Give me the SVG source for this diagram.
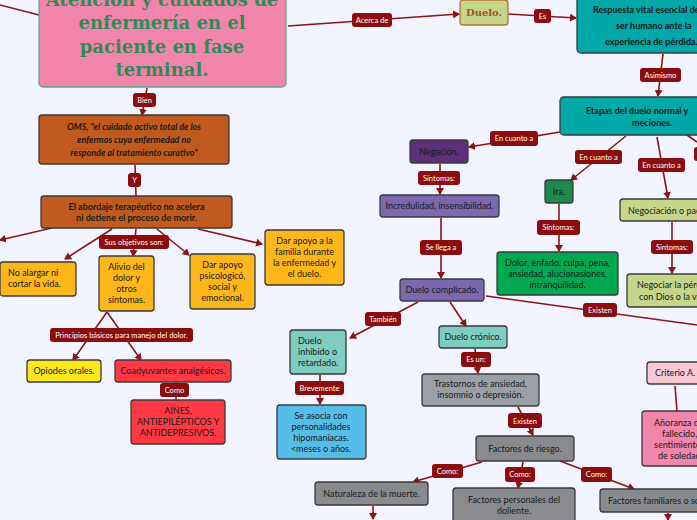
<svg xmlns="http://www.w3.org/2000/svg" width="697" height="520" viewBox="0 0 697 520">
<defs>
<marker id="ah" markerWidth="8" markerHeight="8" refX="6" refY="4" orient="auto" markerUnits="userSpaceOnUse"><path d="M0,0 L7,4 L0,8 Z" fill="#8b1414"/></marker>
<style>
.bg{fill:#f2f5ff}
.n{stroke:#3a3a3a;stroke-width:1.3}
.t{font-family:Lato,"Open Sans",sans-serif;font-size:9px;fill:#1a1a1a;text-anchor:middle}
.s{text-anchor:start}
.c{stroke:#8b1414;stroke-width:1.6;fill:none}
.a{marker-end:url(#ah)}
.lb{fill:#8b0d0d}
.lt{font-family:Lato,"Open Sans",sans-serif;font-size:7.5px;fill:#fff;text-anchor:middle}
</style>
</defs>
<rect class="bg" width="697" height="520"/>
<g id="connectors">
<path class="c" d="M0,5 L39,15"/>
<path class="c a" d="M288,26 L459,14"/>
<path class="c a" d="M508,14 L576,18"/>
<path class="c a" d="M663,54 L658,96"/>
<path class="c a" d="M560,132 L469,147"/>
<path class="c a" d="M440,164 L440,194"/>
<path class="c a" d="M441,218 L441,278"/>
<path class="c a" d="M626,136 L571,180"/>
<path class="c a" d="M559,204 L559,251"/>
<path class="c a" d="M657,137 L668,198"/>
<path class="c" d="M687,135 L697,142"/>
<path class="c a" d="M672,222 L672,273"/>
<path class="c" d="M486,296 L697,325"/>
<path class="c" d="M675,386 L677,411"/>
<path class="c a" d="M418,302 L350,338"/>
<path class="c a" d="M320,375 L320,404"/>
<path class="c a" d="M450,302 L466,326"/>
<path class="c a" d="M475,349 L478,373"/>
<path class="c a" d="M518,407 L533,435"/>
<path class="c a" d="M482,462 L413,482"/>
<path class="c a" d="M523,462 L518,488"/>
<path class="c a" d="M560,461 L634,489"/>
<path class="c a" d="M373,506 L373,519"/>
<path class="c a" d="M668,513 L668,520"/>
<path class="c a" d="M147,88 L142,115"/>
<path class="c" d="M135,165 L136,196"/>
<path class="c a" d="M52,228 L0,240"/>
<path class="c a" d="M112,229 L65,259"/>
<path class="c a" d="M136,229 L133,256"/>
<path class="c a" d="M157,229 L189,255"/>
<path class="c a" d="M198,229 L262,244"/>
<path class="c a" d="M107,312 L73,360"/>
<path class="c a" d="M107,312 L141,360"/>
<path class="c" d="M176,382 L176,400"/>
</g>
<g id="labels">
<rect class="lb" x="352" y="13" width="40" height="14" rx="3"/><text class="lt" x="372" y="23">Acerca de</text>
<rect class="lb" x="534" y="9" width="17" height="14" rx="3"/><text class="lt" x="542.5" y="19">Es</text>
<rect class="lb" x="640" y="68" width="41" height="14" rx="3"/><text class="lt" x="660.5" y="78">Asimismo</text>
<rect class="lb" x="490" y="131" width="48" height="15" rx="3"/><text class="lt" x="514" y="141">En cuanto a</text>
<rect class="lb" x="418" y="171" width="42" height="14" rx="3"/><text class="lt" x="439" y="181">Síntomas:</text>
<rect class="lb" x="420" y="240" width="42" height="15" rx="3"/><text class="lt" x="441" y="250">Se llega a</text>
<rect class="lb" x="575" y="150" width="47" height="14" rx="3"/><text class="lt" x="598.5" y="160">En cuanto a</text>
<rect class="lb" x="537" y="220" width="43" height="15" rx="3"/><text class="lt" x="558.5" y="230">Síntomas:</text>
<rect class="lb" x="638" y="158" width="47" height="14" rx="3"/><text class="lt" x="661.5" y="168">En cuanto a</text>
<rect class="lb" x="694" y="147" width="10" height="14" rx="3"/>
<rect class="lb" x="651" y="240" width="42" height="14" rx="3"/><text class="lt" x="672" y="250">Síntomas:</text>
<rect class="lb" x="583" y="303" width="34" height="14" rx="3"/><text class="lt" x="600" y="313">Existen</text>
<rect class="lb" x="365" y="312" width="36" height="14" rx="3"/><text class="lt" x="383" y="322">También</text>
<rect class="lb" x="295" y="381" width="49" height="14" rx="3"/><text class="lt" x="319.5" y="391">Brevemente</text>
<rect class="lb" x="461" y="352" width="30" height="15" rx="3"/><text class="lt" x="476" y="362">Es un:</text>
<rect class="lb" x="508" y="413" width="34" height="15" rx="3"/><text class="lt" x="525" y="424">Existen</text>
<rect class="lb" x="432" y="464" width="31" height="14" rx="3"/><text class="lt" x="447.5" y="474">Como:</text>
<rect class="lb" x="505" y="467" width="30" height="15" rx="3"/><text class="lt" x="520" y="477">Como:</text>
<rect class="lb" x="581" y="467" width="31" height="15" rx="3"/><text class="lt" x="596.5" y="477">Como:</text>
<rect class="lb" x="133" y="93" width="23" height="14" rx="3"/><text class="lt" x="144.5" y="103">Bien</text>
<rect class="lb" x="128" y="173" width="13" height="14" rx="3"/><text class="lt" x="134.5" y="183">Y</text>
<rect class="lb" x="99" y="235" width="70" height="14" rx="3"/><text class="lt" x="134" y="245">Sus objetivos son:</text>
<rect class="lb" x="50" y="328" width="143" height="14" rx="3"/><text class="lt" x="121.5" y="338">Principios básicos para manejo del dolor.</text>
<rect class="lb" x="160" y="383" width="29" height="14" rx="3"/><text class="lt" x="174.5" y="393">Como</text>
</g>
<g id="n-main"><rect x="39" y="-10" width="247" height="97" rx="4" fill="#f285ab" stroke="#5aa88a" stroke-width="1.3"/>
<text font-family="'DejaVu Serif',serif" font-weight="bold" font-size="18" fill="#2e8b57" text-anchor="middle"><tspan x="162" y="6">Atención y cuidados de</tspan><tspan x="162" y="29">enfermería en el</tspan><tspan x="162" y="53">paciente en fase</tspan><tspan x="162" y="76">terminal.</tspan></text></g>
<g id="n-duelo"><rect x="460" y="0" width="48" height="25" rx="3" fill="#c5d58a" stroke="#b8742f" stroke-width="1.3"/><text x="484" y="16" font-family="'DejaVu Serif',serif" font-weight="bold" font-size="10" fill="#a0522d" text-anchor="middle">Duelo.</text></g>
<g id="n-resp"><rect class="n" x="577" y="-5" width="130" height="58" rx="4" fill="#00a8a8"/><text class="t s" font-size="11" font-weight="bold"><tspan x="593" y="13">Respuesta vital esencial del</tspan><tspan x="616" y="29">ser humano ante la</tspan><tspan x="605" y="45">experiencia de pérdida.</tspan></text></g>
<g id="n-etapas"><rect class="n" x="560" y="97" width="147" height="38" rx="4" fill="#00a8a8"/><text class="t s" font-size="10" font-weight="bold"><tspan x="586" y="114">Etapas del duelo normal y</tspan><tspan x="632" y="126">meciones.</tspan></text></g>
<g id="n-negacion"><rect class="n" x="410" y="140" width="58" height="23" rx="3" fill="#5e2f7a"/><text class="t" x="439" y="155" font-size="10">Negación.</text></g>
<g id="n-incred"><rect class="n" x="380" y="195" width="119" height="22" rx="3" fill="#7b68b0"/><text class="t" x="439.5" y="209">Incredulidad, insensibilidad.</text></g>
<g id="n-complicado"><rect class="n" x="400" y="279" width="84" height="22" rx="3" fill="#7b68b0"/><text class="t" x="442" y="293">Duelo complicado.</text></g>
<g id="n-ira"><rect class="n" x="545" y="180" width="28" height="23" rx="3" fill="#1e8a4a"/><text class="t" x="559" y="195" font-size="10">Ira.</text></g>
<g id="n-dolor"><rect class="n" x="497" y="252" width="121" height="43" rx="3" fill="#00a850"/><text class="t"><tspan x="557.5" y="266">Dolor, enfado, culpa, pena,</tspan><tspan x="557.5" y="277">ansiedad, alucionasiones,</tspan><tspan x="557.5" y="288">intranquilidad.</tspan></text></g>
<g id="n-negociacion"><rect class="n" x="620" y="199" width="87" height="22" rx="3" fill="#c5d58a"/><text class="t s" x="628" y="214" font-size="10">Negociación o pacto.</text></g>
<g id="n-negociar"><rect class="n" x="627" y="274" width="80" height="33" rx="3" fill="#c5d58a"/><text class="t s"><tspan x="637" y="288">Negociar la pérdida</tspan><tspan x="639" y="300">con Dios o la vida.</tspan></text></g>
<g id="n-criterio"><rect class="n" x="647" y="362" width="60" height="22" rx="3" fill="#f8c8d4"/><text class="t s" x="655" y="376">Criterio A.</text></g>
<g id="n-anoranza"><rect class="n" x="642" y="411" width="65" height="55" rx="3" fill="#f285ab"/><text class="t s"><tspan x="654" y="426">Añoranza del</tspan><tspan x="662" y="437">fallecido,</tspan><tspan x="654" y="448">sentimientos</tspan><tspan x="658" y="459">de soledad.</tspan></text></g>
<g id="n-inhibido"><rect class="n" x="290" y="330" width="56" height="44" rx="3" fill="#7ecdc0"/><text class="t s"><tspan x="298" y="344">Duelo</tspan><tspan x="298" y="355">inhibido o</tspan><tspan x="298" y="366">retardado.</tspan></text></g>
<g id="n-asocia"><rect class="n" x="277" y="405" width="89" height="54" rx="3" fill="#56bde9"/><text class="t"><tspan x="321" y="419">Se asocia con</tspan><tspan x="321" y="430">personalidades</tspan><tspan x="321" y="441">hipomaníacas.</tspan><tspan x="321" y="452">&lt;meses o años.</tspan></text></g>
<g id="n-cronico"><rect class="n" x="439" y="326" width="68" height="22" rx="3" fill="#7ecdc0"/><text class="t" x="473" y="340">Duelo crónico.</text></g>
<g id="n-trastornos"><rect class="n" x="422" y="374" width="117" height="32" rx="3" fill="#9aa0a6"/><text class="t"><tspan x="480.5" y="387">Trastornos de ansiedad,</tspan><tspan x="480.5" y="398">insomnio o depresión.</tspan></text></g>
<g id="n-factores"><rect class="n" x="476" y="436" width="98" height="25" rx="3" fill="#888a8e"/><text class="t" x="525" y="452" font-size="10">Factores de riesgo.</text></g>
<g id="n-naturaleza"><rect class="n" x="315" y="482" width="113" height="23" rx="3" fill="#888a8e"/><text class="t" x="371.5" y="497">Naturaleza de la muerte.</text></g>
<g id="n-personales"><rect class="n" x="453" y="488" width="122" height="40" rx="3" fill="#888a8e"/><text class="t"><tspan x="514" y="503">Factores personales del</tspan><tspan x="514" y="514">doliente.</tspan></text></g>
<g id="n-familiares"><rect class="n" x="600" y="489" width="107" height="23" rx="3" fill="#888a8e"/><text class="t s" x="608" y="504">Factores familiares o sociales.</text></g>
<g id="n-oms"><rect class="n" x="39" y="115" width="190" height="49" rx="3" fill="#c05a1f"/><text class="t" font-style="italic" font-weight="bold"><tspan x="134" y="130">OMS, "el cuidado activo total de los</tspan><tspan x="134" y="143">enfermos cuya enfermedad no</tspan><tspan x="134" y="156">responde al tratamiento curativo"</tspan></text></g>
<g id="n-abordaje"><rect class="n" x="41" y="196" width="191" height="32" rx="3" fill="#c05a1f"/><text class="t" font-weight="bold" font-size="10"><tspan x="136.5" y="210">El abordaje terapéutico no acelera</tspan><tspan x="136.5" y="221">ni detiene el proceso de morir.</tspan></text></g>
<g id="n-noalargar"><rect class="n" x="0" y="262" width="76" height="34" rx="3" fill="#fdb71a"/><text class="t s"><tspan x="8" y="276">No alargar ni</tspan><tspan x="8" y="287">cortar la vida.</tspan></text></g>
<g id="n-alivio"><rect class="n" x="99" y="256" width="55" height="55" rx="3" fill="#fdb71a"/><text class="t"><tspan x="126.5" y="270">Alivio del</tspan><tspan x="126.5" y="281">dolor y</tspan><tspan x="126.5" y="292">otros</tspan><tspan x="126.5" y="303">síntomas.</tspan></text></g>
<g id="n-psico"><rect class="n" x="190" y="254" width="65" height="55" rx="3" fill="#fdb71a"/><text class="t"><tspan x="222.5" y="268">Dar apoyo</tspan><tspan x="222.5" y="279">psicologicó,</tspan><tspan x="222.5" y="290">social y</tspan><tspan x="222.5" y="301">emocional.</tspan></text></g>
<g id="n-familia"><rect class="n" x="265" y="230" width="79" height="55" rx="3" fill="#fdb71a"/><text class="t"><tspan x="304.5" y="244">Dar apoyo a la</tspan><tspan x="304.5" y="255">familia durante</tspan><tspan x="304.5" y="266">la enfermedad y</tspan><tspan x="304.5" y="277">el duelo.</tspan></text></g>
<g id="n-opiodes"><rect class="n" x="27" y="360" width="74" height="22" rx="3" fill="#ffe81a"/><text class="t" x="64" y="374">Opiodes orales.</text></g>
<g id="n-coady"><rect class="n" x="115" y="360" width="116" height="22" rx="3" fill="#ff3a45"/><text class="t" x="173" y="374">Coadyuvantes analgésicos.</text></g>
<g id="n-aines"><rect class="n" x="131" y="400" width="94" height="44" rx="3" fill="#ff3a45"/><text class="t"><tspan x="178" y="414">AINES,</tspan><tspan x="178" y="425">ANTIEPILÉPTICOS Y</tspan><tspan x="178" y="436">ANTIDEPRESIVOS.</tspan></text></g>
</svg>
